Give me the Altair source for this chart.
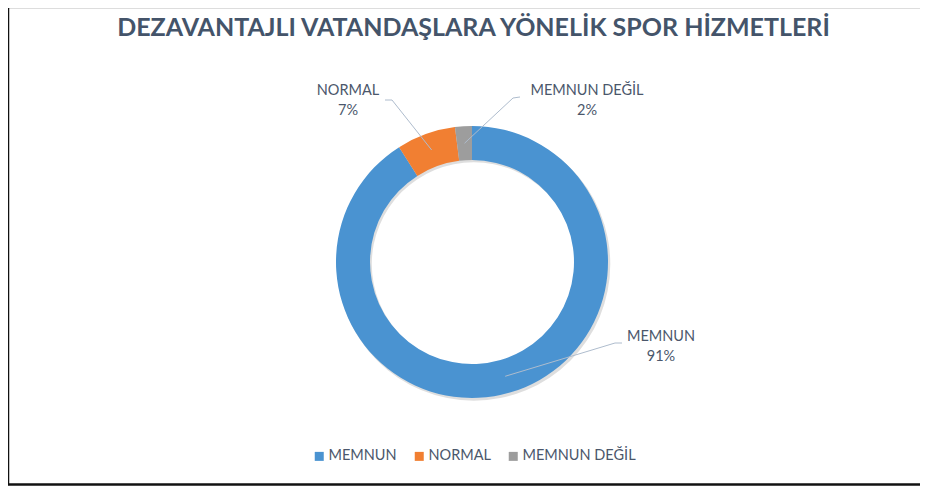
import math
import altair as alt
import pandas as pd

# ---------------- data ----------------
categories = ["MEMNUN", "NORMAL", "MEMNUN DEĞİL"]
percents = [91, 7, 2]
colors = ["#4a93d1", "#f17f32", "#9d9d9d"]
title_text = "DEZAVANTAJLI VATANDAŞLARA YÖNELİK SPOR HİZMETLERİ"

# ---------------- layout (chart px) ----------------
W, H = 912, 478
CX, CY = 464, 254
R_IN, R_OUT = 102, 136
R_MID = (R_IN + R_OUT) / 2
FONT = "Lato"
TXT = "#4b576b"

# label text centre x, first-line baseline y, leader start (x, y), elbow
label_x = [653, 340, 579]
label_y = [333, 87, 87]
lead_start = [(614, 335), (377, 92), (512, 89)]
lead_elbow = [(607, 335), (384, 92), (505, 90)]

# ---------------- tables ----------------
order_idx = list(range(len(categories)))
arc_df = pd.DataFrame({"cat": categories, "pct": percents, "ord": order_idx})

total = sum(percents)
cum = 0
line_rows, text_rows = [], []
for i, (c, p) in enumerate(zip(categories, percents)):
    mid = (cum + p / 2) / total * 2 * math.pi
    cum += p
    ex = CX + R_MID * math.sin(mid)
    ey = CY - R_MID * math.cos(mid)
    pts = [lead_start[i], lead_elbow[i], (ex, ey)]
    for k, (x, y) in enumerate(pts):
        line_rows.append({"cat": c, "k": k, "x": x, "y": y})
    text_rows.append({"t": c, "x": label_x[i], "y": label_y[i]})
    text_rows.append({"t": f"{p}%", "x": label_x[i], "y": label_y[i] + 20})
line_df = pd.DataFrame(line_rows)
text_df = pd.DataFrame(text_rows)
one = pd.DataFrame({"t": [title_text]})

# ---------------- layers ----------------
shadow = alt.Chart(one).mark_arc(
    innerRadius=R_IN, outerRadius=R_OUT + 0.5, color="#000000", opacity=0.13
).encode(
    theta=alt.value(2 * math.pi), x=alt.value(CX + 1.8), y=alt.value(CY + 2.2)
)

arc = alt.Chart(arc_df).mark_arc(innerRadius=R_IN, outerRadius=R_OUT).encode(
    theta=alt.Theta("pct:Q", stack=True),
    order=alt.Order("ord:Q"),
    color=alt.Color(
        "cat:N",
        sort=categories,
        scale=alt.Scale(domain=categories, range=colors),
        legend=alt.Legend(
            title=None,
            orient="none",
            legendX=304,
            legendY=441,
            direction="horizontal",
            symbolType="square",
            symbolSize=81,
            symbolStrokeWidth=0,
            labelFont=FONT,
            labelFontSize=14.5,
            labelColor=TXT,
            labelOffset=2,
            columnPadding=15,
        ),
    ),
    x=alt.value(CX),
    y=alt.value(CY),
)

leaders = alt.Chart(line_df).mark_line(color="#aebccd", strokeWidth=1).encode(
    x=alt.X("x:Q", scale=None, axis=None),
    y=alt.Y("y:Q", scale=None, axis=None),
    detail="cat:N",
    order="k:Q",
)

labels = alt.Chart(text_df).mark_text(
    font=FONT, fontSize=14.5, color=TXT, align="center", baseline="alphabetic"
).encode(
    x=alt.X("x:Q", scale=None, axis=None),
    y=alt.Y("y:Q", scale=None, axis=None),
    text="t:N",
)

title = alt.Chart(one).mark_text(
    font=FONT, fontSize=25, fontWeight="bold", color="#44546a",
    align="center", baseline="alphabetic",
).encode(x=alt.value(465.5), y=alt.value(28), text="t:N")

left_border = alt.Chart(one).mark_rule(color="#111111", strokeWidth=2.5).encode(
    x=alt.value(0), y=alt.value(0), y2=alt.value(477)
)
bottom_border = alt.Chart(one).mark_rule(color="#111111", strokeWidth=2.5).encode(
    x=alt.value(0), x2=alt.value(W), y=alt.value(476.5)
)

chart = (
    alt.layer(shadow, arc, leaders, labels, title, left_border, bottom_border)
    .properties(width=W, height=H, padding=0, autosize=alt.AutoSizeParams(type="none"))
    .configure_view(stroke=None)
    .configure(background="white")
)

chart.save("out.html", embed_options={"renderer": "svg", "actions": False})
